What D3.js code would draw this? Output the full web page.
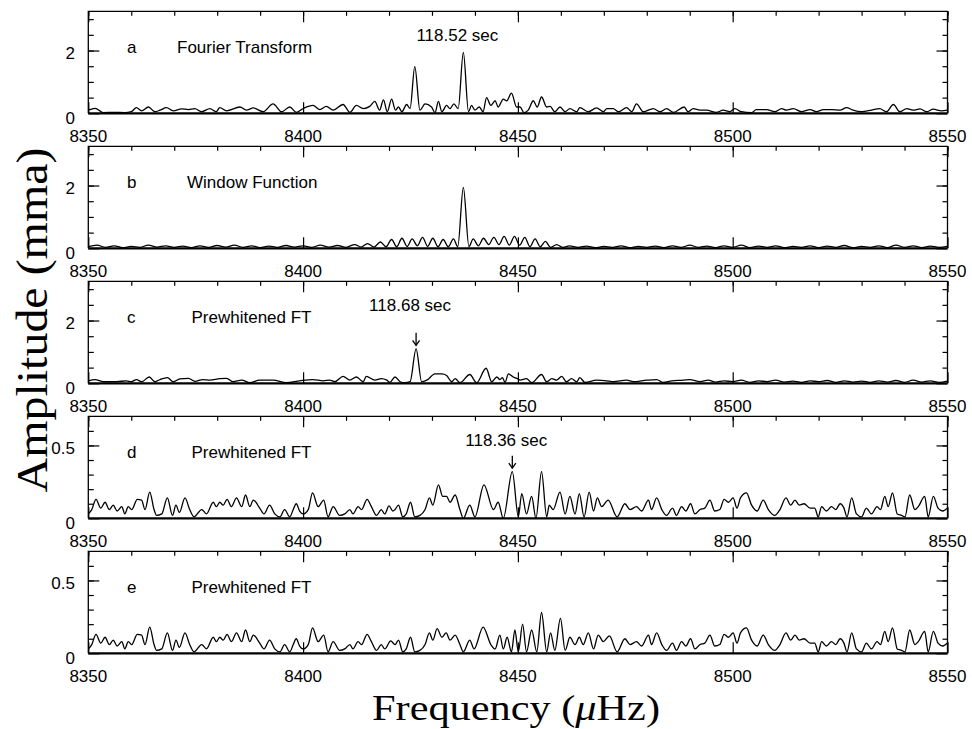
<!DOCTYPE html>
<html>
<head>
<meta charset="utf-8">
<script src="https://cdn.jsdelivr.net/npm/d3@7"></script>
<style>
  body { margin: 0; background: #fff; }
  svg { display: block; }
</style>
</head>
<body>
<svg id="chart" width="972" height="729"></svg>
<script>
// ---- data -------------------------------------------------------------
const freqDomain = [8350, 8550];
const xTickValues = [8350, 8400, 8450, 8500, 8550];
const panelLetters = ["a", "b", "c", "d", "e"];
const panelTitles = ["Fourier Transform", "Window Function", "Prewhitened FT", "Prewhitened FT", "Prewhitened FT"];
const ampMax = [3.25, 3.25, 3.25, 0.7, 0.7];
const yMajorTicks = [[0, 2], [0, 2], [0, 2], [0, 0.5], [0, 0.5]];
const yMinorStep = [0.5, 0.5, 0.5, 0.1, 0.1];

// [frequency (µHz), amplitude (mma)] at the turning points of each spectrum
const ftA = [
  [8350,0.1],[8351.6,0.16],[8353.5,0.02],[8356,0.03],[8358.5,0.02],[8360,0.05],[8361.2,0.18],[8362.4,0.08],
  [8364,0.2],[8365.5,0.05],[8366.7,0.1],[8368.2,0.18],[8369.8,0.08],[8371.7,0.14],[8373.3,0.12],[8374.8,0.15],
  [8376.4,0.05],[8378.3,0.15],[8379.8,0.05],[8380.6,0.18],[8382.2,0.08],[8385.3,0.2],[8386.8,0.1],[8388.4,0.17],
  [8390.7,0.05],[8393,0.3],[8395,0.05],[8396.9,0.2],[8398.4,0.03],[8400,0.15],[8402.3,0.25],[8403.9,0.12],
  [8405.4,0.22],[8407,0.1],[8409.3,0.28],[8410.9,0.03],[8412.4,0.25],[8414,0.15],[8415.5,0.22],[8416.7,0.38],
  [8417.8,0.1],[8418.7,0.43],[8419.6,0.05],[8420.6,0.45],[8421.5,0.1],[8422.2,0.2],[8423,0.05],[8424.1,0.28],
  [8424.9,0.15],[8426,1.49],[8427.2,0.1],[8428.4,0.3],[8429.9,0.2],[8430.7,0.02],[8431.5,0.38],[8432.3,0.05],
  [8433.4,0.25],[8434.2,0.15],[8435.1,0.3],[8436.1,0.15],[8437.3,1.94],[8438.5,0.05],[8439.2,0.25],[8440,0.1],
  [8441,0.2],[8441.9,0.05],[8442.7,0.5],[8443.7,0.25],[8444.7,0.4],[8445.4,0.2],[8446.6,0.45],[8447.4,0.4],
  [8448.5,0.64],[8449.7,0.2],[8450.5,0.2],[8451.4,0.02],[8452.4,0.1],[8453.6,0.4],[8454.5,0.2],[8455.5,0.52],
  [8456.7,0.2],[8457.5,0.22],[8458.6,0.05],[8459.8,0.2],[8461,0.05],[8462.1,0.15],[8463.7,0.05],[8464.4,0.18],
  [8466.4,0.05],[8468.3,0.17],[8469.9,0.05],[8470.7,0.15],[8472.2,0.15],[8473.4,0.05],[8475.3,0.18],[8476.5,0.05],
  [8477.6,0.3],[8479.2,0.05],[8481.5,0.15],[8483.1,0.05],[8484.6,0.15],[8486.2,0.03],[8488.7,0.2],[8489.6,0.05],
  [8490.8,0.15],[8492.4,0.1],[8493.9,0.1],[8496.2,0.03],[8497.8,0.1],[8499.3,0.05],[8500.5,0.15],[8502,0.05],
  [8504.4,0.02],[8505.5,0.12],[8507.9,0.12],[8509.8,0.05],[8511.4,0.15],[8512.5,0.1],[8514.1,0.15],[8516,0.05],
  [8518,0.12],[8519.5,0.05],[8521.1,0.12],[8523,0.12],[8525,0.1],[8526.5,0.18],[8528,0.1],[8530,0.05],
  [8532.3,0.1],[8534.2,0.15],[8535.8,0.05],[8537.4,0.28],[8538.9,0.05],[8540.5,0.15],[8542,0.1],[8543.6,0.14],
  [8545.1,0.05],[8546.7,0.13],[8548.6,0.08],[8550,0.1]
];

const windowB = [
  [8350,0.05],[8352,0.1],[8354,0.03],[8356,0.08],[8358,0.02],[8360,0.06],[8362,0.03],[8364,0.1],[8366,0.04],
  [8368,0.08],[8370,0.03],[8372,0.07],[8374,0.02],[8376,0.08],[8378,0.03],[8380,0.09],[8382,0.04],[8384,0.1],
  [8386,0.03],[8388,0.08],[8390,0.02],[8392,0.07],[8394,0.03],[8396,0.09],[8398,0.04],[8400,0.08],[8402,0.03],
  [8404,0.1],[8406,0.04],[8408,0.09],[8410,0.03],[8412,0.12],[8413.5,0.04],[8415,0.15],[8416.5,0.04],
  [8418,0.2],[8419.3,0.05],[8420.6,0.28],[8421.8,0.05],[8423,0.32],[8424.2,0.06],[8425.4,0.3],[8426.6,0.08],
  [8427.8,0.35],[8429,0.06],[8430.2,0.32],[8431.4,0.05],[8432.6,0.28],[8433.8,0.05],[8435,0.3],[8436,0.05],
  [8437.3,1.94],[8438.6,0.05],[8439.6,0.3],[8440.8,0.08],[8442,0.32],[8443.2,0.12],[8444.4,0.35],[8445.6,0.12],
  [8446.8,0.38],[8448,0.1],[8449.2,0.38],[8450.4,0.1],[8451.6,0.35],[8452.8,0.05],[8454,0.3],[8455.2,0.05],
  [8456.4,0.22],[8457.6,0.03],[8459,0.12],[8460.5,0.03],[8462,0.08],[8464,0.03],[8466,0.07],[8468,0.02],
  [8470,0.06],[8472,0.03],[8474,0.08],[8476,0.02],[8478,0.06],[8480,0.03],[8482,0.07],[8484,0.02],[8486,0.08],
  [8488,0.03],[8490,0.1],[8492,0.03],[8494,0.07],[8496,0.02],[8498,0.08],[8500,0.03],[8502,0.1],[8504,0.02],
  [8506,0.07],[8508,0.03],[8510,0.08],[8512,0.02],[8514,0.06],[8516,0.03],[8518,0.08],[8520,0.02],[8522,0.07],
  [8524,0.03],[8526,0.09],[8528,0.02],[8530,0.06],[8532,0.03],[8534,0.08],[8536,0.02],[8538,0.1],[8540,0.03],
  [8542,0.08],[8544,0.02],[8546,0.07],[8548,0.03],[8550,0.06]
];

const prewhitenedC = [
  [8350,0.08],[8351.6,0.12],[8353.5,0.05],[8356.6,0.05],[8358.9,0.08],[8360,0.05],[8361.2,0.12],[8362.4,0.05],
  [8364.2,0.2],[8365.5,0.05],[8366.7,0.12],[8368.4,0.18],[8369.8,0.05],[8371.3,0.14],[8373.3,0.16],[8374.8,0.06],
  [8376.7,0.12],[8378.3,0.1],[8380.6,0.15],[8382.2,0.16],[8383.7,0.05],[8385.7,0.1],[8387.6,0.02],[8389.9,0.1],
  [8393,0.1],[8396.1,0.02],[8399.2,0.08],[8402.3,0.12],[8404.7,0.08],[8406.2,0.1],[8407.4,0.05],[8409.3,0.22],
  [8410.9,0.1],[8412.4,0.2],[8414,0.05],[8414.7,0.22],[8416.7,0.1],[8418.2,0.15],[8419.5,0.1],[8420.2,0.03],
  [8421.4,0.2],[8422.6,0.05],[8423.7,0.02],[8424.9,0.05],[8426.3,1.1],[8427.6,0.05],[8428.8,0.1],[8430.7,0.3],
  [8432.3,0.3],[8433.4,0.25],[8434.6,0.05],[8435.4,0.15],[8436.5,0.02],[8438.8,0.28],[8440.4,0.02],[8442.6,0.48],
  [8443.9,0.05],[8445.1,0.2],[8445.8,0.12],[8446.4,0.18],[8447,0.03],[8447.8,0.3],[8448.9,0.2],[8449.9,0.15],
  [8450.5,0.1],[8452,0.15],[8453.2,0.02],[8455.5,0.28],[8456.7,0.05],[8457.9,0.15],[8459,0.1],[8460.2,0.22],
  [8461.3,0.05],[8462.5,0.15],[8463.7,0.05],[8464.4,0.18],[8465.6,0.03],[8468.3,0.1],[8470.7,0.08],[8472.2,0.05],
  [8475.3,0.1],[8476.9,0.05],[8480,0.1],[8482.3,0.12],[8483.8,0.03],[8485.8,0.08],[8488.5,0.1],[8490,0.12],
  [8492.4,0.05],[8494.3,0.1],[8496,0.04],[8498,0.08],[8500,0.05],[8502,0.1],[8504,0.03],[8506,0.08],[8508,0.05],
  [8510,0.1],[8512,0.04],[8514,0.07],[8516,0.03],[8518,0.08],[8520,0.05],[8522,0.09],[8524,0.03],[8526,0.08],
  [8528,0.04],[8530,0.07],[8532,0.03],[8534,0.08],[8536,0.04],[8538,0.09],[8540,0.03],[8542,0.1],[8544,0.04],
  [8546,0.08],[8548,0.03],[8550,0.07]
];

// residual noise common to the last two prewhitened spectra, below and above the mode region
const residualLow = [
  [8350,0.03],[8350.8,0.06],[8351.8,0.13],[8352.9,0.07],[8353.9,0.11],[8354.9,0.06],[8355.8,0.09],[8356.7,0.05],
  [8357.8,0.08],[8358.5,0.03],[8359.3,0.08],[8360.1,0.06],[8361.4,0.13],[8362.4,0.125],[8363.2,0.06],[8364.3,0.18],
  [8365.3,0.06],[8365.9,0.02],[8367.1,0.03],[8368.4,0.14],[8369.6,0.02],[8370.4,0.09],[8371.2,0.04],[8372.5,0.14],
  [8373.6,0.06],[8374.6,0.01],[8376.4,0.06],[8377.5,0.03],[8379.1,0.11],[8379.8,0.08],[8380.6,0.11],[8381.4,0.09],
  [8382.3,0.13],[8383.3,0.08],[8384.5,0.14],[8385.7,0.08],[8386.6,0.16],[8387.6,0.08],[8388.4,0.125],[8389.9,0.07],
  [8390.9,0.03],[8392.2,0.09],[8393.4,0.03],[8394.6,0.01],[8395.7,0.06],[8396.9,0.01],[8397.7,0.06],[8398.4,0.1],
  [8399.2,0.05],[8400,0.03],[8401.2,0.06],[8402.2,0.175],[8403.5,0.08],[8404.8,0.125],[8405.8,0.01],[8407,0.08],
  [8408.5,0.02],[8409.7,0.03],[8410.9,0.06],[8411.6,0.03],[8412.8,0.08],[8413.6,0.06],[8414.9,0.13],[8415.9,0.08],
  [8417.1,0.02]
];
const residualHigh = [
  [8474.9,0.1],[8476.1,0.06],[8477.6,0.08],[8478.8,0.05],[8480.4,0.125],[8481.1,0.06],[8482.3,0.14],[8483.5,0.06],
  [8484.6,0.02],[8486,0.07],[8486.9,0.02],[8488.1,0.08],[8489.1,0.05],[8490.2,0.1],[8491.2,0.03],[8492.4,0.06],
  [8493.5,0.07],[8494.7,0.125],[8495.8,0.05],[8497,0.06],[8498,0.13],[8499,0.11],[8500.1,0.14],[8501,0.07],
  [8501.8,0.14],[8503.2,0.175],[8504.4,0.09],[8505.7,0.05],[8507.1,0.125],[8508.3,0.06],[8509.8,0.02],[8511,0.06],
  [8512.4,0.14],[8513.5,0.09],[8514.5,0.125],[8515.5,0.09],[8516.6,0.1],[8518,0.07],[8519.1,0.07],[8519.9,0.01],
  [8520.7,0.08],[8521.8,0.05],[8523,0.08],[8524,0.06],[8525,0.1],[8525.9,0.07],[8526.6,0.01],[8527.7,0.14],
  [8528.8,0.03],[8530,0.01],[8531.1,0.07],[8532.3,0.03],[8533.6,0.08],[8534.4,0.06],[8535.4,0.15],[8536.2,0.08],
  [8537.2,0.175],[8538.3,0.03],[8539.3,0.02],[8540.1,0.01],[8541.2,0.16],[8542.4,0.06],[8543.2,0.08],[8544.7,0.15],
  [8545.5,0.01],[8546.7,0.15],[8547.8,0.07],[8548.9,0.05],[8550,0.07]
];
const modeRegionD = [
  [8418.2,0.06],[8419,0.03],[8420,0.085],[8420.9,0.05],[8421.4,0.06],[8422.2,0.09],[8423.2,0.01],[8424,0.03],
  [8425,0.11],[8426,0.01],[8427.2,0.02],[8428.4,0.06],[8429.4,0.14],[8430.2,0.09],[8431.5,0.23],[8432.5,0.15],
  [8433.4,0.15],[8434.2,0.11],[8435.4,0.16],[8436.5,0.06],[8437.3,0],[8438.8,0.09],[8440,0.01],[8442.1,0.23],
  [8444.3,0.06],[8445.4,0.11],[8446.6,0],[8448.7,0.32],[8450.1,0.01],[8450.9,0.17],[8452,0.03],[8453.2,0.15],
  [8454.2,0],[8455.5,0.32],[8456.7,0.01],[8457.3,0.09],[8458.2,0.06],[8459.8,0.18],[8461,0.03],[8462.1,0.15],
  [8463.3,0.03],[8464.3,0.17],[8465.4,0.01],[8466.6,0.18],[8467.6,0.05],[8468.5,0.14],[8469.5,0.08],[8471,0.125],
  [8473.1,0.01]
];
const modeRegionE = [
  [8418.2,0.06],[8419,0.03],[8420.4,0.085],[8421.4,0.06],[8422.2,0.09],[8423.2,0.01],[8424,0.03],[8425,0.11],
  [8426,0.01],[8427.2,0.02],[8428.4,0.06],[8429.4,0.14],[8430.2,0.09],[8431.2,0.17],[8432.3,0.11],[8433.3,0.14],
  [8434.2,0.09],[8435.4,0.125],[8436.5,0.06],[8437.3,0.01],[8438.8,0.09],[8439.8,0.03],[8441.9,0.18],[8443.7,0.06],
  [8444.7,0.03],[8445.8,0.125],[8446.6,0.03],[8447.5,0.11],[8448.5,0.01],[8449.3,0.16],[8450.1,0.01],[8451.1,0.2],
  [8452,0.01],[8453.2,0.16],[8454.4,0.01],[8455.5,0.28],[8456.7,0.01],[8457.6,0.14],[8458.6,0.02],[8459.9,0.24],
  [8461,0.02],[8462.1,0.11],[8463.3,0.06],[8464.3,0.11],[8465.2,0.06],[8466.4,0.14],[8467.6,0.03],[8468.7,0.125],
  [8469.9,0.08],[8471.3,0.12],[8473.1,0.01]
];
const prewhitenedD = [...residualLow, ...modeRegionD, ...residualHigh];
const prewhitenedE = [...residualLow, ...modeRegionE, ...residualHigh];

const spectra = [ftA, windowB, prewhitenedC, prewhitenedD, prewhitenedE];

// periods marked on the spectra: panel index, peak frequency, label height (mma)
const periodNotes = [
  { panel: 0, freq: 8437.3, peak: 1.94, labelAmp: 2.3, text: "118.52 sec", arrow: false },
  { panel: 2, freq: 8426.3, peak: 1.1, labelAmp: 2.3, text: "118.68 sec", arrow: true },
  { panel: 3, freq: 8448.7, peak: 0.32, labelAmp: 0.498, text: "118.36 sec", arrow: true }
];

// ---- layout -----------------------------------------------------------
const svg = d3.select("#chart");
const plotLeft = 88.3, plotRight = 947.5;
const panelBottoms = [113.3, 248.3, 383.3, 518.3, 653.3];
const panelHeight = 102;
const sansFont = "'Liberation Sans', Arial, Helvetica, sans-serif";
const serifFont = "'Liberation Serif', 'Times New Roman', serif";

const x = d3.scaleLinear().domain(freqDomain).range([plotLeft, plotRight]);
const xMinorTicks = d3.range(freqDomain[0], freqDomain[1] + 0.001, 10);

const fmtY = v => (v === 0 ? "0" : String(v));

spectra.forEach((series, i) => {
  const bottom = panelBottoms[i];
  const top = bottom - panelHeight;
  const y = d3.scaleLinear().domain([0, ampMax[i]]).range([bottom, top]);
  const g = svg.append("g");

  const yMinor = d3.range(yMinorStep[i], ampMax[i] - 1e-9, yMinorStep[i]).map(v => +v.toFixed(2));

  // spectrum
  g.append("path")
    .datum(series)
    .attr("fill", "none")
    .attr("stroke", "#000")
    .attr("stroke-width", 1.3)
    .attr("stroke-linejoin", "round")
    .attr("d", d3.line().x(d => x(d[0])).y(d => y(d[1])).curve(d3.curveMonotoneX));

  // tick marks (all pointing into the panel)
  const tickStyle = sel => {
    sel.select(".domain").remove();
    sel.selectAll("line").attr("stroke", "#000").attr("stroke-width", 1.2);
    sel.selectAll("text").remove();
  };
  g.append("g").attr("transform", `translate(0,${top})`)
    .call(d3.axisTop(x).tickValues(xMinorTicks).tickSize(-4.5)).call(tickStyle);
  g.append("g").attr("transform", `translate(0,${top})`)
    .call(d3.axisTop(x).tickValues(xTickValues).tickSize(-11)).call(tickStyle);
  g.append("g").attr("transform", `translate(0,${bottom})`)
    .call(d3.axisBottom(x).tickValues(xTickValues).tickSize(-11)).call(tickStyle);
  g.append("g").attr("transform", `translate(${plotLeft},0)`)
    .call(d3.axisLeft(y).tickValues(yMinor).tickSize(-5.5)).call(tickStyle);
  g.append("g").attr("transform", `translate(${plotLeft},0)`)
    .call(d3.axisLeft(y).tickValues(yMajorTicks[i]).tickSize(-11)).call(tickStyle);
  g.append("g").attr("transform", `translate(${plotRight},0)`)
    .call(d3.axisRight(y).tickValues(yMinor).tickSize(-5)).call(tickStyle);
  g.append("g").attr("transform", `translate(${plotRight},0)`)
    .call(d3.axisRight(y).tickValues(yMajorTicks[i]).tickSize(-11)).call(tickStyle);

  // frame
  g.append("path")
    .attr("d", `M${plotLeft},${bottom}V${top}H${plotRight}V${bottom}`)
    .attr("fill", "none").attr("stroke", "#000").attr("stroke-width", 1.3);
  g.append("line")
    .attr("x1", plotLeft).attr("x2", plotRight).attr("y1", bottom).attr("y2", bottom)
    .attr("stroke", "#000").attr("stroke-width", 2.2);

  // tick labels
  g.selectAll("text.xlab").data(xTickValues).join("text")
    .attr("class", "xlab")
    .attr("x", d => x(d)).attr("y", bottom + 29)
    .attr("text-anchor", "middle")
    .attr("font-family", sansFont).attr("font-size", 17)
    .text(d => d);
  g.selectAll("text.ylab").data(yMajorTicks[i]).join("text")
    .attr("class", "ylab")
    .attr("x", 75)
    .attr("y", d => (d === 0 ? bottom + 11 : y(d) + 8.5))
    .attr("text-anchor", "end")
    .attr("font-family", sansFont).attr("font-size", 17)
    .text(fmtY);

  // panel letter and title
  g.append("text")
    .attr("x", 127).attr("y", top + 42)
    .attr("font-family", sansFont).attr("font-size", 17)
    .text(panelLetters[i]);
  g.append("text")
    .attr("x", i === 0 ? 177 : (i === 1 ? 187 : 191.5)).attr("y", top + 42)
    .attr("font-family", sansFont).attr("font-size", 17)
    .text(panelTitles[i]);

  // period annotations
  periodNotes.filter(n => n.panel === i).forEach(n => {
    const px = x(n.freq);
    g.append("text")
      .attr("x", px - 6).attr("y", y(n.labelAmp))
      .attr("text-anchor", "middle")
      .attr("font-family", sansFont).attr("font-size", 17)
      .text(n.text);
    if (n.arrow) {
      const tip = y(n.peak) - 3.5;
      g.append("line")
        .attr("x1", px).attr("x2", px).attr("y1", tip - 12.5).attr("y2", tip)
        .attr("stroke", "#000").attr("stroke-width", 1.3);
      g.append("path")
        .attr("d", `M${px - 3.5},${tip - 5}L${px},${tip}L${px + 3.5},${tip - 5}`)
        .attr("fill", "none").attr("stroke", "#000").attr("stroke-width", 1.3);
    }
  });
});

// axis titles
svg.append("text")
  .attr("transform", "translate(46.7,320) rotate(-90)")
  .attr("text-anchor", "middle")
  .attr("font-family", serifFont).attr("font-size", 44)
  .attr("textLength", 345).attr("lengthAdjust", "spacingAndGlyphs")
  .text("Amplitude (mma)");

const xTitle = svg.append("text")
  .attr("x", 516).attr("y", 720)
  .attr("text-anchor", "middle")
  .attr("font-family", serifFont).attr("font-size", 36)
  .attr("textLength", 288).attr("lengthAdjust", "spacingAndGlyphs");
xTitle.append("tspan").text("Frequency (");
xTitle.append("tspan").attr("font-style", "italic").text("\u03bc");
xTitle.append("tspan").text("Hz)");
</script>
</body>
</html>
